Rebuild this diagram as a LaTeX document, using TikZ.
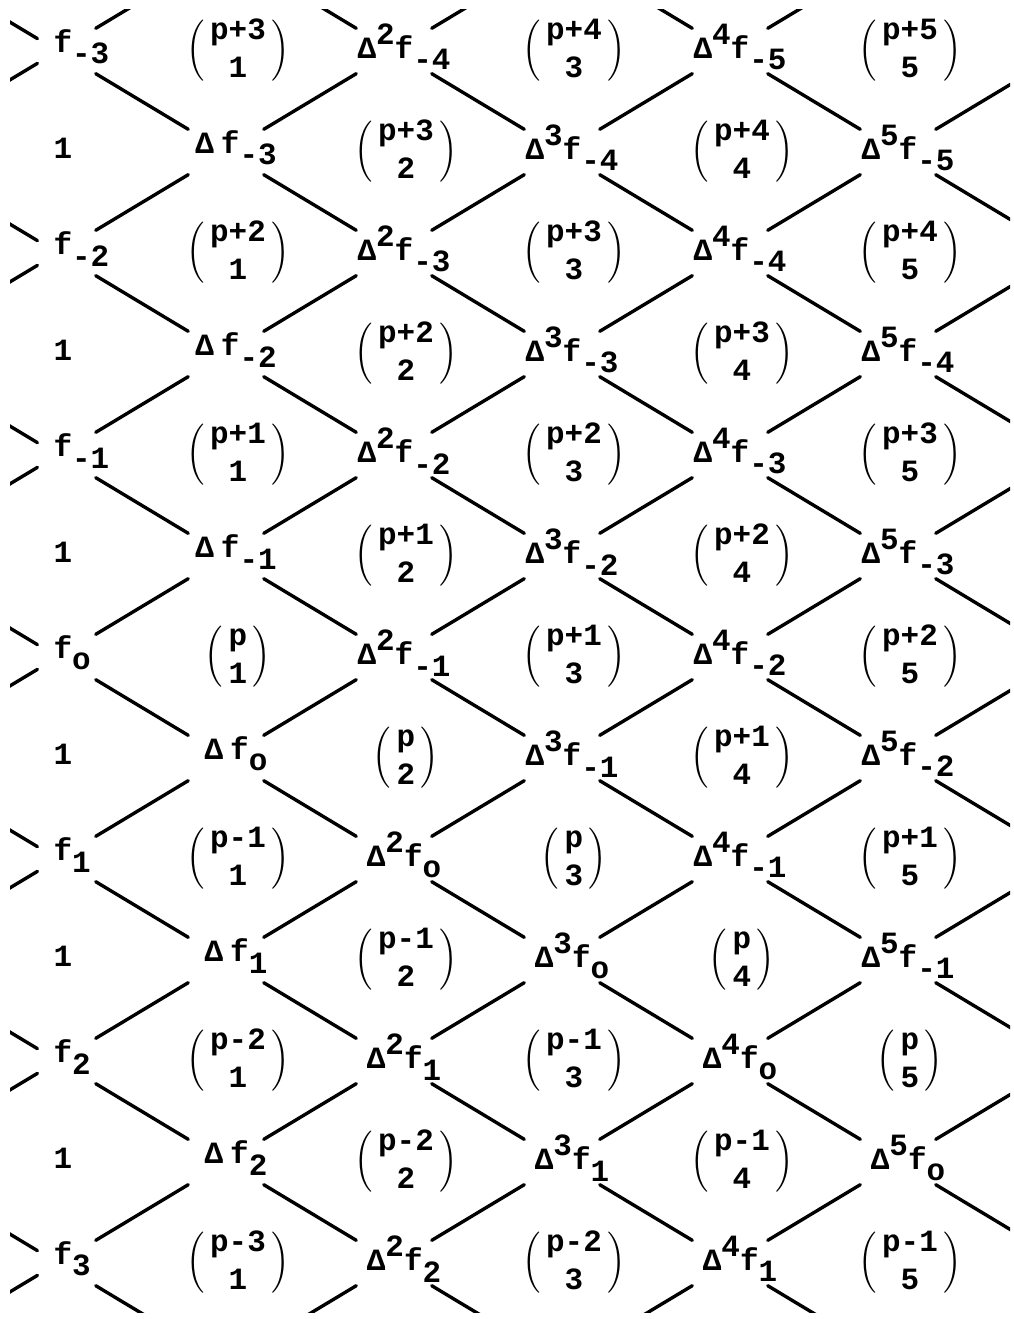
\documentclass[tikz,border=0pt]{standalone}
\usepackage{fontspec}
\setmainfont{Liberation Mono}
\usepackage{amsmath}
\usepackage{graphicx}

% subscript index: zero printed as o
\newcommand{\sidx}[1]{\ifnum#1=0 o\else#1\fi}
% difference term: order #1, index #2
\newcommand{\dterm}[2]{\ifnum#1>0 Δ\fi\ifnum#1=1 \hspace{2.5pt}\fi\ifnum#1>1 \raisebox{5pt}{#1}\fi f\raisebox{-4pt}{\sidx{#2}}}
% binomial (p+#1 over #2)
\newcommand{\bpar}[1]{\vcenter{\hbox{\scalebox{1}[1.1]{$#1$}}}}
\newcommand{\bnm}[2]{$\bpar{\Bigl(}\vcenter{\hbox{\begin{tabular}{@{\hspace{2pt}}c@{\hspace{2pt}}}p\ifnum#1>0 +#1\fi\ifnum#1<0 #1\fi\\#2\end{tabular}}}\bpar{\Bigr)}$}

\begin{document}
\begin{tikzpicture}[
    x=0.0125cm, y=-0.0125cm,
    every node/.style={font=\fontsize{11}{13.5}\selectfont\bfseries},
    leftnode/.style={anchor=west, inner sep=0pt, xshift=-0.0625cm, yshift=0.05cm},
    diffnode/.style={xshift=0.125cm, yshift=0.05cm},
    binnode/.style={inner sep=1pt, xshift=0.15cm},
    link/.style={line width=1.2pt, line cap=round, shorten <=0.55cm, shorten >=0.55cm}
]
\useasboundingbox[fill=white] (0,0) rectangle (1013,1319);

% lattice points
\foreach \rw in {-1,...,13}{
  \foreach \cl in {-1,...,6}{
    \pgfmathtruncatemacro{\ix}{\rw+1}
    \pgfmathtruncatemacro{\jx}{\cl+1}
    \coordinate (p-\ix-\jx) at ({58+168*\cl},{51+101*\rw});
  }
}

% entries
\foreach \rw in {0,...,12}{
  \foreach \cl in {0,...,5}{
    \pgfmathtruncatemacro{\ix}{\rw+1}
    \pgfmathtruncatemacro{\jx}{\cl+1}
    \pgfmathtruncatemacro{\odd}{mod(\rw+\cl,2)}
    \pgfmathtruncatemacro{\kx}{(\rw-\cl)/2-3}
    \pgfmathtruncatemacro{\qx}{(\cl-\rw+5)/2}
    \ifnum\odd=0
      \ifnum\cl=0 \node[leftnode] (t-\rw-\cl) at (p-\ix-\jx) {\dterm{0}{\kx}};
      \else \node[diffnode] (t-\rw-\cl) at (p-\ix-\jx) {\dterm{\cl}{\kx}};
      \fi
    \else
      \ifnum\cl=0 \node[leftnode] (t-\rw-\cl) at (p-\ix-\jx) {1};
      \else \node[binnode] (t-\rw-\cl) at (p-\ix-\jx) {\bnm{\qx}{\cl}};
      \fi
    \fi
  }
}

% lozenge lines
\begin{scope}
\clip (10,10) rectangle (1010,1312);
\foreach \rw in {0,...,12}{
  \foreach \cl in {0,...,5}{
    \pgfmathtruncatemacro{\odd}{mod(\rw+\cl,2)}
    \ifnum\odd=0
      \foreach \dr/\dc in {-1/-1,-1/1,1/-1,1/1}{
        \pgfmathtruncatemacro{\rr}{\rw+\dr}
        \pgfmathtruncatemacro{\cc}{\cl+\dc}
        \pgfmathtruncatemacro{\ix}{\rw+1}
        \pgfmathtruncatemacro{\jx}{\cl+1}
        \pgfmathtruncatemacro{\iy}{\rr+1}
        \pgfmathtruncatemacro{\jy}{\cc+1}
        \pgfmathtruncatemacro{\edge}{(\rr<0)||(\rr>12)||(\cc<0)||(\cc>5)}
        \ifnum\edge=1
          \ifnum\cc<0 \draw[link, shorten <=0.3cm, shorten >=0pt] (p-\ix-\jx) -- (p-\iy-\jy);
          \else \draw[link, shorten >=0pt] (p-\ix-\jx) -- (p-\iy-\jy);
          \fi
        \else
          \ifnum\dr=1 \draw[link] (p-\ix-\jx) -- (p-\iy-\jy); \fi
        \fi
      }
    \fi
  }
}
\end{scope}

\end{tikzpicture}
\end{document}
